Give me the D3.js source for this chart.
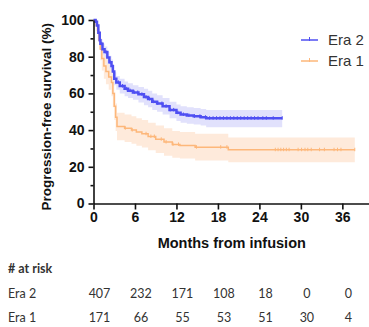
<!DOCTYPE html>
<html lang="en">
<head>
  <meta charset="UTF-8">
  <title>Progression-free survival by era</title>
  <style>
    body {
      margin: 0;
      background: #fff;
    }
    svg {
      display: block;
    }
    .tick-label {
      font-family: "Liberation Sans Narrow", "Arial Narrow", "Liberation Sans", sans-serif;
      font-weight: bold;
      font-size: 14px;
      fill: #111;
    }
    .risk {
      font-family: Lato, "Open Sans", sans-serif;
      font-size: 12.5px;
      fill: #333;
    }
  </style>
</head>
<body>
  <svg id="chart" width="369" height="327"></svg>

  <script src="https://d3js.org/d3.v7.min.js"></script>
  <script>
    // Kaplan-Meier steps (months, % surviving, 95% CI)
    const era2Time  = [0, 0.3, 0.5, 0.7, 0.9, 1.0, 1.3, 1.6, 2.0, 2.3, 2.6, 2.8, 3.0, 3.3, 3.8, 4.5, 5.0, 5.7, 6.5, 7.3, 7.9, 8.5, 9.2, 10, 11, 12, 12.6, 13.5, 14.5, 15.5, 16.3, 27.3];
    const era2Surv  = [100, 99, 97, 93, 89, 87, 84, 82.5, 79.5, 77, 75, 72, 68, 66, 64, 62.5, 61.5, 60.5, 59.5, 58, 57, 55.5, 54.5, 53, 51, 49.5, 48.5, 48, 47.5, 47, 46.5, 46.5];
    const era2Lower = [100, 98, 95.5, 91, 86.5, 84.5, 81, 79.5, 76, 73.5, 71.5, 68.5, 64.5, 62, 60, 58.5, 57.5, 56.5, 55, 53.5, 52.5, 51, 50, 48.5, 46.5, 45, 44, 43.5, 43, 42.5, 41.5, 41];
    const era2Upper = [100, 100, 98.5, 95, 91.5, 89.5, 87, 85.5, 82.5, 80.5, 78.5, 75.5, 71.5, 69.5, 68, 66.5, 65.5, 64.5, 63.5, 62.5, 61.5, 60, 59, 57.5, 55.5, 54, 53, 52.5, 52, 51.5, 51, 51];
    const era2Censor = [1.2, 1.8, 2.4, 3.6, 4.2, 4.8, 5.3, 5.9, 6.4, 7, 7.6, 8.1, 8.7, 9.3, 9.9, 10.5, 11.1, 11.6, 12.2, 13, 13.8, 14.6, 15.4, 16.2, 16.8, 17.3, 17.8, 18.3, 18.8, 19.3, 19.8, 20.3, 20.8, 21.3, 21.8, 22.3, 22.8, 23.3, 23.8, 24.5, 25, 26, 27.3];

    const era1Time  = [0, 0.4, 0.6, 0.8, 1.0, 1.2, 1.5, 1.8, 2.2, 2.6, 2.8, 3.0, 3.2, 3.4, 4.5, 5.5, 6.2, 7.0, 7.9, 9.0, 10.2, 11.4, 12.5, 14.7, 19.5, 37.8];
    const era1Surv  = [100, 97, 93, 89, 84, 79, 75, 72, 69, 66, 60, 53, 47, 42, 41, 40, 39, 38, 36.5, 35, 33.5, 32.2, 31.6, 30.7, 29.3, 29.3];
    const era1Lower = [100, 94, 89, 84, 78, 72.5, 68, 65, 62, 58.5, 52.5, 45.5, 39.5, 34.5, 33.5, 32.5, 31.5, 30.5, 29, 27.5, 26, 25, 24.5, 23.5, 22.5, 22.5];
    const era1Upper = [100, 99.5, 97, 94, 90, 85.5, 82, 79, 76, 73.5, 67.5, 60.5, 54.5, 49.5, 48.5, 47.5, 46.5, 45.5, 44, 42.5, 41, 39.5, 39, 38, 36, 36];
    const era1Censor = [4.6, 5.6, 7.6, 8.3, 8.8, 9.8, 10.5, 11.5, 12.3, 14.9, 18.4, 19.3, 26.3, 26.7, 27.1, 27.5, 27.9, 28.3, 29.6, 30.1, 30.6, 31.0, 31.5, 32.7, 33.4, 34.8, 35.3, 35.8, 37.8];

    const xTicks = [0, 6, 12, 18, 24, 30, 36];
    const yTicks = [0, 20, 40, 60, 80, 100];
    const yMinorTicks = [10, 30, 50, 70, 90];

    const riskMonths = [0, 6, 12, 18, 24, 30, 36];
    const era2Risk = [407, 232, 171, 108, 18, 0, 0];
    const era1Risk = [171, 66, 55, 53, 51, 30, 4];

    const svg = d3.select("#chart");

    const x = d3.scaleLinear().domain([0, 40]).range([93.5, 370]);
    const y = d3.scaleLinear().domain([0, 100]).range([203.5, 20]);

    const series = [
      { name: "Era 1", time: era1Time, surv: era1Surv, lo: era1Lower, hi: era1Upper, censor: era1Censor, line: "#fdb77a", band: "#feeadb" },
      { name: "Era 2", time: era2Time, surv: era2Surv, lo: era2Lower, hi: era2Upper, censor: era2Censor, line: "#4f4ff2", band: "#e1e1fc" }
    ];

    // step value at time t (for placing censor marks)
    function stepAt(s, t) {
      let v = s.surv[0];
      for (let i = 0; i < s.time.length; i++) {
        if (s.time[i] <= t) v = s.surv[i];
      }
      return v;
    }

    const area = d3.area()
      .curve(d3.curveStepAfter)
      .x(d => x(d.t))
      .y0(d => y(d.lo))
      .y1(d => y(d.hi));

    const line = d3.line()
      .curve(d3.curveStepAfter)
      .x(d => x(d.t))
      .y(d => y(d.s));

    series.forEach(s => {
      const pts = s.time.map((t, i) => ({ t: t, s: s.surv[i], lo: s.lo[i], hi: s.hi[i] }));
      s.pts = pts;
      svg.append("path")
        .attr("d", area(pts))
        .attr("fill", s.band);
    });

    series.forEach(s => {
      svg.append("path")
        .attr("d", line(s.pts))
        .attr("fill", "none")
        .attr("stroke", s.line)
        .attr("stroke-width", s.name === "Era 2" ? 2.5 : 1.5);

      svg.append("g").selectAll("line")
        .data(s.censor)
        .join("line")
        .attr("x1", d => x(d))
        .attr("x2", d => x(d))
        .attr("y1", d => y(stepAt(s, d)) - 2)
        .attr("y2", d => y(stepAt(s, d)) + 1.5)
        .attr("stroke", s.line)
        .attr("stroke-width", 1);
    });

    // axes
    svg.append("g")
      .attr("transform", `translate(${x(0)},0)`)
      .call(d3.axisLeft(y).tickValues(yTicks).tickSize(5).tickSizeOuter(0).tickPadding(4));
    svg.append("g")
      .attr("transform", `translate(${x(0)},0)`)
      .call(d3.axisLeft(y).tickValues(yMinorTicks).tickSize(3).tickFormat(""))
      .select(".domain").remove();

    svg.append("g")
      .attr("transform", `translate(0,${y(0)})`)
      .call(d3.axisBottom(x).tickValues(xTicks).tickSize(6).tickSizeOuter(0).tickPadding(3));

    svg.selectAll(".domain, .tick line")
      .attr("stroke", "#111")
      .attr("stroke-width", 1.6);
    svg.selectAll(".tick text")
      .attr("class", "tick-label")
      .attr("font-family", null)
      .attr("font-size", null);

    // axis titles
    svg.append("text")
      .attr("transform", `translate(51,${(y(0) + y(100)) / 2 + 5}) rotate(-90)`)
      .attr("text-anchor", "middle")
      .attr("font-family", "Liberation Sans, Arial, sans-serif")
      .attr("font-weight", "bold")
      .attr("font-size", 13.5)
      .attr("fill", "#111")
      .text("Progression-free survival (%)");

    svg.append("text")
      .attr("x", (x(0) + x(40)) / 2)
      .attr("y", 248)
      .attr("text-anchor", "middle")
      .attr("font-family", "Liberation Sans, Arial, sans-serif")
      .attr("font-weight", "bold")
      .attr("font-size", 14.5)
      .attr("fill", "#111")
      .text("Months from infusion");

    // legend
    const legend = svg.append("g").attr("transform", "translate(301,0)");
    [series[1], series[0]].forEach((s, i) => {
      const ly = 40 + i * 21;
      legend.append("line")
        .attr("x1", 0).attr("x2", 17)
        .attr("y1", ly).attr("y2", ly)
        .attr("stroke", s.line).attr("stroke-width", 1.5);
      legend.append("line")
        .attr("x1", 8.5).attr("x2", 8.5)
        .attr("y1", ly - 3).attr("y2", ly + 1)
        .attr("stroke", s.line).attr("stroke-width", 1);
      legend.append("text")
        .attr("x", 27)
        .attr("y", ly + 5)
        .attr("font-family", "Liberation Sans, Arial, sans-serif")
        .attr("font-size", 15)
        .attr("fill", "#333")
        .text(s.name);
    });

    // number at risk table
    svg.append("text")
      .attr("class", "risk")
      .attr("x", 8)
      .attr("y", 273)
      .attr("font-weight", "bold")
      .text("# at risk");

    const rows = [
      { name: "Era 2", vals: era2Risk, y: 298 },
      { name: "Era 1", vals: era1Risk, y: 321.5 }
    ];
    rows.forEach(r => {
      svg.append("text")
        .attr("class", "risk")
        .attr("x", 8)
        .attr("y", r.y)
        .text(r.name);
      svg.append("g").selectAll("text")
        .data(r.vals)
        .join("text")
        .attr("class", "risk")
        .attr("x", (d, i) => x(riskMonths[i]) + 6)
        .attr("y", r.y)
        .attr("text-anchor", "middle")
        .text(d => d);
    });
  </script>
</body>
</html>
